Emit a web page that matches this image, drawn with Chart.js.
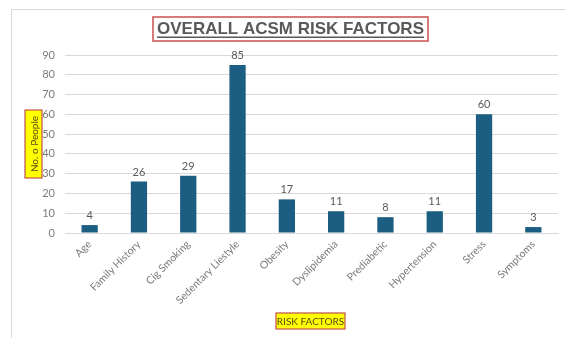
<!DOCTYPE html>
<html>
<head>
<meta charset="utf-8">
<script src="https://cdn.jsdelivr.net/npm/chart.js@4"></script>
<style>
  html, body { margin: 0; padding: 0; background: #fff; }
  #wrap { width: 565px; height: 338px; position: relative; }
</style>
</head>
<body>
<div id="wrap"><canvas id="chart" width="565" height="338"></canvas></div>
<script>
// chart data
const categories = ["Age", "Family History", "Cig Smoking", "Sedentary Liestyle", "Obesity",
  "Dyslipidemia", "Prediabetic", "Hypertension", "Stress", "Symptoms"];
const peopleCounts = [4, 26, 29, 85, 17, 11, 8, 11, 60, 3];
const yTicks = [0, 10, 20, 30, 40, 50, 60, 70, 80, 90];

const chartTitle = "OVERALL ACSM RISK FACTORS";
const yTitle = "No. o People";
const xTitle = "RISK FACTORS";

const BAR = "#1b5e82";
const GREY = "#595959";
const TICK = "#7a7a7a";

// boxes, value labels and frame drawn on top of the chart
const decorations = {
  id: "decorations",
  afterDraw(chart) {
    const ctx = chart.ctx;
    ctx.save();

    // frame lines (left + top)
    ctx.strokeStyle = "#d9d9d9";
    ctx.lineWidth = 1;
    ctx.beginPath();
    ctx.moveTo(11.5, 338);
    ctx.lineTo(11.5, 9.5);
    ctx.lineTo(565, 9.5);
    ctx.stroke();

    // value labels
    const meta = chart.getDatasetMeta(0);
    ctx.font = "11px Lato, 'Open Sans', sans-serif";
    ctx.fillStyle = GREY;
    ctx.textAlign = "center";
    ctx.textBaseline = "bottom";
    meta.data.forEach((bar, i) => {
      ctx.fillText(String(peopleCounts[i]), bar.x, bar.y - 4);
    });

    // main title box
    ctx.fillStyle = "#fff";
    ctx.fillRect(153, 17, 275, 24);
    ctx.strokeStyle = "#c9504d";
    ctx.lineWidth = 1.5;
    ctx.strokeRect(153, 17, 275, 24);
    ctx.font = "bold 17px 'Liberation Sans', Arial, sans-serif";
    ctx.fillStyle = GREY;
    ctx.textAlign = "center";
    ctx.textBaseline = "middle";
    const tx = 290.5, ty = 29.5;
    ctx.fillText(chartTitle, tx, ty);
    const tw = ctx.measureText(chartTitle).width;
    ctx.fillRect(tx - tw / 2, ty + 7, tw, 1.5);

    // y axis title box
    ctx.fillStyle = "#ffff00";
    ctx.fillRect(25, 110, 17, 68);
    ctx.strokeStyle = "#c0504d";
    ctx.lineWidth = 1.2;
    ctx.strokeRect(25, 110, 17, 68);
    ctx.translate(34, 144);
    ctx.rotate(-Math.PI / 2);
    ctx.font = "10px Lato, 'Open Sans', sans-serif";
    ctx.fillStyle = "#5a4a10";
    ctx.fillText(yTitle, 0, 0.5);
    ctx.setTransform(1, 0, 0, 1, 0, 0);

    // x axis title box
    ctx.fillStyle = "#ffff00";
    ctx.fillRect(276, 313, 69, 16);
    ctx.strokeRect(276, 313, 69, 16);
    ctx.fillStyle = "#5a4a10";
    ctx.font = "10px Lato, 'Open Sans', sans-serif";
    ctx.fillText(xTitle, 310.5, 321.5);

    ctx.restore();
  }
};

new Chart(document.getElementById("chart"), {
  type: "bar",
  data: {
    labels: categories,
    datasets: [{
      data: peopleCounts,
      backgroundColor: BAR,
      categoryPercentage: 1,
      barPercentage: 0.33
    }]
  },
  options: {
    responsive: false,
    animation: false,
    devicePixelRatio: 1,
    layout: { padding: { left: 0, right: 7, top: 55, bottom: 0 } },
    plugins: {
      legend: { display: false },
      tooltip: { enabled: false },
      title: { display: false }
    },
    scales: {
      x: {
        grid: { display: false, drawTicks: false },
        border: { color: "#d9d9d9" },
        ticks: {
          color: TICK,
          font: { family: "Lato, 'Open Sans', sans-serif", size: 10.5 },
          maxRotation: 45,
          minRotation: 45,
          autoSkip: false,
          padding: 5
        },
        afterFit(scale) { scale.height = 105; }
      },
      y: {
        min: 0,
        max: 90,
        afterBuildTicks(scale) { scale.ticks = yTicks.map(v => ({ value: v })); },
        grid: { color: "#d9d9d9", drawTicks: false },
        border: { display: false },
        ticks: {
          color: TICK,
          font: { family: "Lato, 'Open Sans', sans-serif", size: 11 },
          padding: 10
        },
        afterFit(scale) { scale.width = 65; }
      }
    }
  },
  plugins: [decorations]
});
</script>
</body>
</html>
